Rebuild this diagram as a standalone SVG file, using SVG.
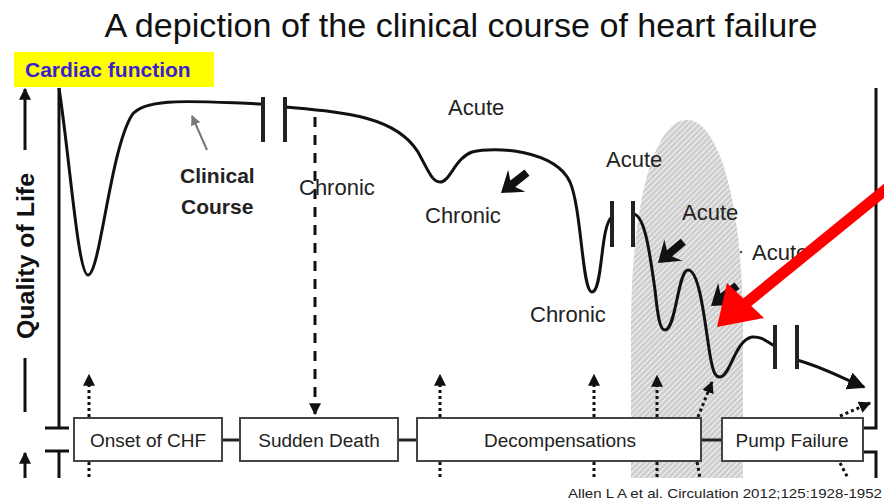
<svg xmlns="http://www.w3.org/2000/svg" width="884" height="503" viewBox="0 0 884 503">
<style>
text{font-family:"Liberation Sans",Arial,sans-serif;fill:#222}
.lbl{font-size:22px}
.box{fill:#fff;stroke:#444;stroke-width:2}
.bt{font-size:19px;text-anchor:middle}
.ln{stroke:#111;stroke-width:3;fill:none}
.dot{stroke:#111;stroke-width:3;fill:none;stroke-dasharray:3 3}
.bar{stroke:#222;stroke-width:4}
</style>
<defs>
<pattern id="hatch" patternUnits="userSpaceOnUse" width="4" height="4" patternTransform="rotate(-45)">
<rect width="4" height="4" fill="#cdcdcd"/>
<rect width="4" height="1.2" fill="#f2f2f2"/>
</pattern>
<marker id="ah" viewBox="0 0 10 10" refX="9" refY="5" markerWidth="4" markerHeight="4" orient="auto" markerUnits="strokeWidth">
<path d="M0,0 L10,5 L0,10 Z" fill="#111"/>
</marker>
<marker id="ahg" viewBox="0 0 10 10" refX="9" refY="5" markerWidth="5" markerHeight="5" orient="auto" markerUnits="strokeWidth">
<path d="M0,0 L10,5 L0,10 Z" fill="#777"/>
</marker>
<marker id="ahb" viewBox="0 0 10 10" refX="9" refY="5" markerWidth="6" markerHeight="6" orient="auto" markerUnits="strokeWidth">
<path d="M0,0 L10,5 L0,10 Z" fill="#111"/>
</marker>
<path id="ka" d="M0,0 L-20,-14 L-15,-4 L-33,-4 L-33,4 L-15,4 L-20,14 Z" fill="#111"/>
</defs>
<rect width="884" height="503" fill="#fff"/>

<text x="461" y="37" font-size="33" text-anchor="middle" textLength="713" lengthAdjust="spacingAndGlyphs" style="fill:#111">A depiction of the clinical course of heart failure</text>

<g id="cardiac-function">
<rect x="14" y="52" width="200" height="35" fill="#ffff00"/>
<text x="25" y="77" font-size="21" font-weight="bold" style="fill:#3a1fd4">Cardiac function</text>
</g>

<g id="axis">
<text transform="translate(34,256) rotate(-90)" font-size="23" font-weight="bold" text-anchor="middle" textLength="166" lengthAdjust="spacingAndGlyphs" style="fill:#111">Quality of Life</text>
<line x1="25" y1="150" x2="25" y2="89" class="ln" marker-end="url(#ah)"/>
<line x1="25" y1="358" x2="25" y2="412" class="ln"/>
<line x1="25" y1="478" x2="25" y2="453" class="ln" marker-end="url(#ah)"/>
<path d="M59,88 V428 M45,428 H69 M45,451 H69 M59,451 V478" class="ln"/>
<path d="M876,88 V428 H863 M863,452 H876 V478" class="ln"/>
</g>

<g id="hatched-region">
<path d="M631,478 L631,330 C631,200 655,120 687,120 C718,120 743,200 743,330 L743,478 Z" fill="url(#hatch)"/>
</g>

<g id="course-curve">
<path d="M59,88 C70,160 78,275 88,275 C100,275 110,150 132,115 C145,96 200,102 263,104" class="ln"/>
<path d="M285,107 C340,112 395,115 418,152 C428,170 432,182 440,182 C450,182 455,158 472,152 C495,146 555,150 570,182 C582,210 582,292 592,292 C603,292 600,225 612,217" class="ln"/>
<path d="M633,214 C645,214 650,255 655,290 C658,318 660,330 665,330 C676,330 678,270 688,270 C700,270 705,325 710,355 C713,372 715,377 720,377 C730,377 735,340 752,337 C763,336 768,343 775,346" class="ln"/>
<path d="M797,360 C820,366 842,378 864,387" class="ln" marker-end="url(#ahb)"/>
<line x1="263" y1="97" x2="263" y2="142" class="bar"/>
<line x1="285" y1="97" x2="285" y2="142" class="bar"/>
<line x1="612" y1="201" x2="612" y2="247" class="bar"/>
<line x1="633" y1="201" x2="633" y2="247" class="bar"/>
<line x1="775" y1="325" x2="775" y2="369" class="bar"/>
<line x1="797" y1="325" x2="797" y2="369" class="bar"/>
</g>

<g id="labels">
<text x="180" y="183" font-size="21" font-weight="bold">Clinical</text>
<text x="181" y="214" font-size="21" font-weight="bold">Course</text>
<line x1="207" y1="150" x2="192" y2="116" stroke="#777" stroke-width="2" marker-end="url(#ahg)"/>
<text x="448" y="115" class="lbl">Acute</text>
<text x="299" y="195" class="lbl">Chronic</text>
<text x="425" y="223" class="lbl">Chronic</text>
<text x="530" y="322" class="lbl">Chronic</text>
<text x="606" y="167" class="lbl">Acute</text>
<text x="682" y="220" class="lbl">Acute</text>
<circle cx="741" cy="252" r="1.3" fill="#555"/>
<text x="752" y="260" class="lbl">Acute</text>
<use href="#ka" transform="translate(501,193) rotate(142)"/>
<use href="#ka" transform="translate(658,263) rotate(140)"/>
<use href="#ka" transform="translate(711,306) rotate(142)"/>
</g>

<g id="connectors">
<line x1="315" y1="117" x2="315" y2="414" stroke="#111" stroke-width="3" stroke-dasharray="10 8" marker-end="url(#ah)"/>
<line x1="89" y1="417" x2="89" y2="375" class="dot" marker-end="url(#ah)"/>
<line x1="89" y1="462" x2="89" y2="478" class="dot"/>
<line x1="440" y1="417" x2="440" y2="375" class="dot" marker-end="url(#ah)"/>
<line x1="440" y1="462" x2="440" y2="478" class="dot"/>
<line x1="594" y1="417" x2="594" y2="375" class="dot" marker-end="url(#ah)"/>
<line x1="594" y1="462" x2="594" y2="478" class="dot"/>
<line x1="657" y1="417" x2="657" y2="376" class="dot" marker-end="url(#ah)"/>
<line x1="657" y1="462" x2="657" y2="478" class="dot"/>
<line x1="698" y1="417" x2="712" y2="382" class="dot" marker-end="url(#ah)"/>
<line x1="697" y1="462" x2="700" y2="478" class="dot"/>
<line x1="840" y1="416" x2="870" y2="403" class="dot" marker-end="url(#ah)"/>
<line x1="840" y1="463" x2="848" y2="478" class="dot"/>
<path d="M222,440 H240 M398,440 H417 M701,440 H722" stroke="#222" stroke-width="3"/>
</g>

<g id="onset">
<rect x="74" y="418" width="148" height="43" class="box"/>
<text x="148" y="447" class="bt">Onset of CHF</text>
</g>
<g id="sudden-death">
<rect x="240" y="418" width="158" height="43" class="box"/>
<text x="319" y="447" class="bt">Sudden Death</text>
</g>
<g id="decompensations">
<rect x="417" y="418" width="284" height="43" class="box"/>
<text x="560" y="447" class="bt">Decompensations</text>
</g>
<g id="pump-failure">
<rect x="722" y="418" width="141" height="43" class="box"/>
<text x="792" y="447" class="bt">Pump Failure</text>
</g>

<g id="red-arrow">
<line x1="890" y1="186" x2="745" y2="304" stroke="#ff0000" stroke-width="11"/>
<path d="M717,327 L727,283 L764,318 Z" fill="#ff0000"/>
</g>

<text x="882" y="498" font-size="13.5" text-anchor="end" textLength="314" lengthAdjust="spacingAndGlyphs">Allen L A et al. Circulation 2012;125:1928-1952</text>
</svg>
